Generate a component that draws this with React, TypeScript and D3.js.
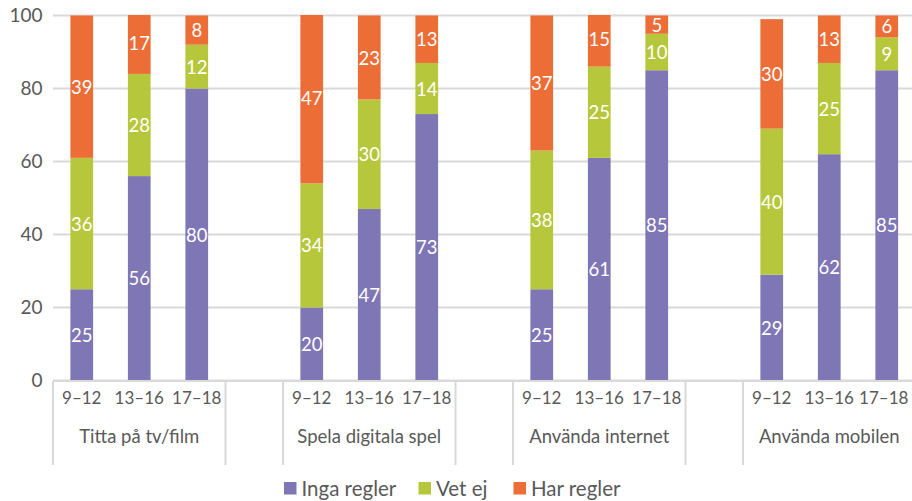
import React from "react";
import * as d3 from "d3";

const groups = ["Titta på tv/film", "Spela digitala spel", "Använda internet", "Använda mobilen"];
const ages = ["9–12", "13–16", "17–18"];
const ingaRegler = [25, 56, 80, 20, 47, 73, 25, 61, 85, 29, 62, 85];
const vetEj = [36, 28, 12, 34, 30, 14, 38, 25, 10, 40, 25, 9];
const harRegler = [39, 17, 8, 47, 23, 13, 37, 15, 5, 30, 13, 6];
const seriesNames = ["Inga regler", "Vet ej", "Har regler"];
const seriesColors = ["#7f76b5", "#b7c73b", "#ec6d36"];
const yTicks = [0, 20, 40, 60, 80, 100];

const W = 912;
const H = 501;
const FONT = "Lato, 'Open Sans', sans-serif";
const TXT = "#595959";
const GRID = "#d9d9d9";

type Slot = { key: string; group: number; age: number; idx: number };

const slots: Slot[] = [];
let di = 0;
groups.forEach((g, gi) => {
  ages.forEach((a, ai) => {
    slots.push({ key: `${gi}|${a}`, group: gi, age: ai, idx: di });
    di++;
  });
  if (gi < groups.length - 1) slots.push({ key: `gap${gi}`, group: -1, age: -1, idx: -1 });
});

export default function App() {
  const left = 53;
  const step = 57.5;
  const right = left + step * slots.length;
  const x = d3
    .scaleBand<string>()
    .domain(slots.map((s) => s.key))
    .range([left, right])
    .paddingInner(0.605)
    .paddingOuter(0.3025);
  const y = d3.scaleLinear().domain([0, 100]).range([380.5, 15.5]);

  const rows = slots
    .filter((s) => s.idx >= 0)
    .map((s) => ({
      key: s.key,
      inga: ingaRegler[s.idx],
      vet: vetEj[s.idx],
      har: harRegler[s.idx],
    }));
  const stack = d3.stack<any>().keys(["inga", "vet", "har"]);
  const stacked = stack(rows);

  const seps: number[] = [0];
  let k = 0;
  groups.forEach((g, gi) => {
    k += 3;
    seps.push(k);
    if (gi < groups.length - 1) {
      k += 1;
      seps.push(k);
    }
  });

  const legendItems = [
    { sx: 284, tx: 301.5 },
    { sx: 418.5, tx: 436 },
    { sx: 513.5, tx: 531 },
  ];

  return (
    <svg
      width={W}
      height={H}
      style={{ position: "absolute", left: 0, top: 0, background: "#fff" }}
      fontFamily={FONT}
    >
      <defs>
        <clipPath id="plot">
          <rect x={left} y={15} width={right - left} height={380.5 - 15} />
        </clipPath>
      </defs>
      {yTicks.map((t) => (
        <line key={t} x1={left} x2={right} y1={y(t)} y2={y(t)} stroke={GRID} strokeWidth={1.8} />
      ))}
      <g clipPath="url(#plot)">
        {stacked.map((layer, li) =>
          layer.map((d: any, i: number) => (
            <rect
              key={`${li}-${i}`}
              x={x(rows[i].key)}
              width={x.bandwidth()}
              y={y(d[1])}
              height={y(d[0]) - y(d[1])}
              fill={seriesColors[li]}
            />
          ))
        )}
      </g>
      {stacked.map((layer, li) =>
        layer.map((d: any, i: number) => {
          const v = d[1] - d[0];
          const cy = (y(d[0]) + y(d[1])) / 2;
          return (
            <text
              key={`l${li}-${i}`}
              x={(x(rows[i].key) as number) + x.bandwidth() / 2}
              y={cy}
              dy="0.38em"
              textAnchor="middle"
              fill="#fff"
              fontSize={18.5}
            >
              {v}
            </text>
          );
        })
      )}
      <line x1={left} x2={right} y1={381} y2={381} stroke={GRID} strokeWidth={2} />
      {seps.map((s) => (
        <line key={s} x1={left + s * step} x2={left + s * step} y1={381} y2={465} stroke={GRID} strokeWidth={2} />
      ))}
      {slots
        .filter((s) => s.idx >= 0)
        .map((s) => (
          <text
            key={`a${s.key}`}
            x={(x(s.key) as number) + x.bandwidth() / 2 - (s.age === 2 && s.group === 3 ? 3 : 0)}
            y={404}
            textAnchor="middle"
            fill={TXT}
            fontSize={17}
          >
            {ages[s.age]}
          </text>
        ))}
      {groups.map((g, gi) => {
        const first = slots.find((s) => s.group === gi && s.age === 0)!;
        const last = slots.find((s) => s.group === gi && s.age === 2)!;
        const cx = ((x(first.key) as number) + (x(last.key) as number) + x.bandwidth()) / 2;
        return (
          <text key={g} x={cx} y={443} textAnchor="middle" fill={TXT} fontSize={18.5}>
            {g}
          </text>
        );
      })}
      {yTicks.map((t) => (
        <text key={`y${t}`} x={42.5} y={y(t)} dy="0.36em" textAnchor="end" fill={TXT} fontSize={19}>
          {t}
        </text>
      ))}
      {seriesNames.map((n, i) => (
        <g key={n}>
          <rect x={legendItems[i].sx} y={482} width={12.5} height={12.5} fill={seriesColors[i]} />
          <text x={legendItems[i].tx} y={495.5} fill={TXT} fontSize={20.5}>
            {n}
          </text>
        </g>
      ))}
    </svg>
  );
}
